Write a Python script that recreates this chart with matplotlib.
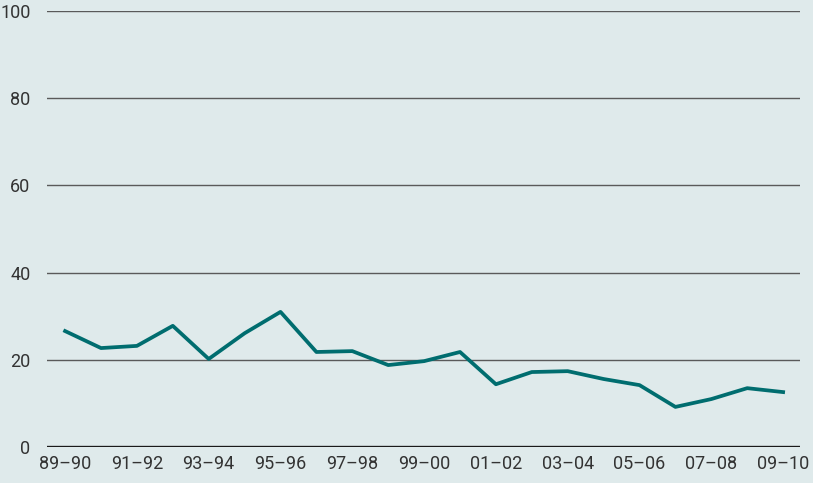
import matplotlib.pyplot as plt
import numpy as np

years = ['89–90', '90–91', '91–92', '92–93', '93–94', '94–95', '95–96', '96–97',
         '97–98', '98–99', '99–00', '00–01', '01–02', '02–03', '03–04', '04–05',
         '05–06', '06–07', '07–08', '08–09', '09–10']
values = [26.6, 22.7, 23.2, 27.8, 20.2, 26.1, 31.0, 21.8, 22.0, 18.8, 19.7,
          21.8, 14.4, 17.2, 17.4, 15.6, 14.2, 9.2, 11.0, 13.5, 12.6]
yticks = [0, 20, 40, 60, 80, 100]

bg = '#dfeaeb'
plt.rcParams['font.family'] = ['Roboto', 'DejaVu Sans']

fig = plt.figure(figsize=(8.13, 4.83), dpi=100, facecolor=bg)
ax = fig.add_axes([0.058, 0.0745, 0.926, 0.9025], facecolor=bg)

x = np.arange(len(values))
for t in yticks[1:]:
    ax.axhline(t, color='#5a5a5a', lw=1.0, zorder=1)
ax.axhline(0, color='#1a1a1a', lw=2.4, zorder=1)
ax.plot(x, values, color='#006d6f', lw=2.7, zorder=3)

ax.set_xlim(-0.5, 20.47)
ax.set_ylim(0, 100)
ax.set_xticks(x[::2])
ax.set_xticklabels(years[::2])
ax.set_yticks(yticks)
ax.tick_params(length=0, labelsize=13, colors='#333333')
ax.tick_params(axis='y', pad=12)
ax.tick_params(axis='x', pad=6)
for s in ax.spines.values():
    s.set_visible(False)

fig.savefig('out.png', dpi=100, facecolor=bg)
